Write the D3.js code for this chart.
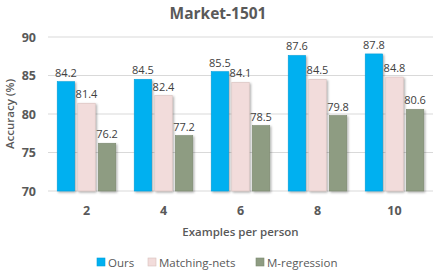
<!DOCTYPE html>
<html>
<head>
<meta charset="utf-8">
<script src="https://cdn.jsdelivr.net/npm/d3@7"></script>
<style>
  body { margin: 0; background: #fff; }
  svg { font-family: "Open Sans", "Liberation Sans", sans-serif; }
</style>
</head>
<body>
<div id="chart"></div>
<script>
// Chart data
const categories = ["2", "4", "6", "8", "10"];
const seriesNames = ["Ours", "Matching-nets", "M-regression"];
const ours = [84.2, 84.5, 85.5, 87.6, 87.8];
const matchingNets = [81.4, 82.4, 84.1, 84.5, 84.8];
const mRegression = [76.2, 77.2, 78.5, 79.8, 80.6];
const yTicks = [70, 75, 80, 85, 90];

const colors = ["#00b0f0", "#f2dcdb", "#8e9c82"];
const strokes = ["#00a0dc", "#d8c0bd", "#7c8a70"];

const width = 436;
const height = 273;
const margin = { top: 37, right: 3, bottom: 82, left: 48 };

const svg = d3.select("#chart")
    .append("svg")
    .attr("width", width)
    .attr("height", height);

// soft shadow like the original
const defs = svg.append("defs");
const f = defs.append("filter").attr("id", "sh")
    .attr("x", "-20%").attr("y", "-20%").attr("width", "150%").attr("height", "150%");
f.append("feDropShadow").attr("dx", 1.2).attr("dy", 1.2)
    .attr("stdDeviation", 0.8).attr("flood-color", "#000").attr("flood-opacity", 0.35);

const x0 = d3.scaleBand()
    .domain(categories)
    .range([margin.left, width - margin.right])
    .paddingInner(0.24)
    .paddingOuter(0.12);

const x1 = d3.scaleBand()
    .domain(seriesNames)
    .range([0, x0.bandwidth()])
    .paddingInner(0.15)
    .paddingOuter(0);

const y = d3.scaleLinear()
    .domain([70, 90])
    .range([height - margin.bottom, margin.top]);

// gridlines
svg.append("g")
    .selectAll("line")
    .data(yTicks)
    .enter()
    .append("line")
    .attr("x1", margin.left)
    .attr("x2", width - margin.right)
    .attr("y1", d => y(d))
    .attr("y2", d => y(d))
    .attr("stroke", "#d9d9d9")
    .attr("stroke-width", 1);

// y axis labels
svg.append("g")
    .selectAll("text")
    .data(yTicks)
    .enter()
    .append("text")
    .attr("x", 36)
    .attr("y", d => y(d) + 4.5)
    .attr("text-anchor", "end")
    .attr("font-size", 12.5)
    .attr("font-weight", "bold")
    .attr("fill", "#595959")
    .text(d => d);

// bars
const allSeries = [ours, matchingNets, mRegression];
const rows = [];
categories.forEach((c, i) => {
    seriesNames.forEach((s, j) => {
        rows.push({ cat: c, series: s, idx: j, value: allSeries[j][i] });
    });
});

const groups = svg.append("g");
groups.selectAll("rect")
    .data(rows)
    .enter()
    .append("rect")
    .attr("x", d => x0(d.cat) + x1(d.series))
    .attr("y", d => y(d.value))
    .attr("width", x1.bandwidth())
    .attr("height", d => y(70) - y(d.value))
    .attr("fill", d => colors[d.idx])
    .attr("stroke", d => strokes[d.idx])
    .attr("stroke-width", 0.6)
    .attr("filter", "url(#sh)");

// value labels
groups.selectAll("text")
    .data(rows)
    .enter()
    .append("text")
    .attr("x", d => x0(d.cat) + x1(d.series) + x1.bandwidth() / 2)
    .attr("y", d => y(d.value) - 5)
    .attr("text-anchor", "middle")
    .attr("font-size", 11)
    .attr("fill", "#404040")
    .text(d => d.value.toFixed(1));

// x tick labels
svg.append("g")
    .selectAll("text")
    .data(categories)
    .enter()
    .append("text")
    .attr("x", d => x0(d) + x0.bandwidth() / 2)
    .attr("y", 215)
    .attr("text-anchor", "middle")
    .attr("font-size", 12.5)
    .attr("font-weight", "bold")
    .attr("fill", "#595959")
    .text(d => d);

// axis titles
svg.append("text")
    .attr("x", (margin.left + width - margin.right) / 2)
    .attr("y", 236)
    .attr("text-anchor", "middle")
    .attr("font-size", 11.5)
    .attr("font-weight", 600)
    .attr("fill", "#595959")
    .text("Examples per person");

svg.append("text")
    .attr("transform", `translate(14,${(margin.top + height - margin.bottom) / 2}) rotate(-90)`)
    .attr("text-anchor", "middle")
    .attr("font-size", 11.5)
    .attr("font-weight", 600)
    .attr("fill", "#595959")
    .text("Accuracy (%)");

// title
svg.append("text")
    .attr("x", width / 2)
    .attr("y", 19)
    .attr("text-anchor", "middle")
    .attr("font-size", 15.5)
    .attr("font-weight", "bold")
    .attr("fill", "#595959")
    .text("Market-1501");

// legend
const legendX = [97, 148, 256];
const legend = svg.append("g")
    .selectAll("g")
    .data(seriesNames)
    .enter()
    .append("g")
    .attr("transform", (d, i) => `translate(${legendX[i]},258)`);

legend.append("rect")
    .attr("width", 8)
    .attr("height", 8)
    .attr("fill", (d, i) => colors[i])
    .attr("stroke", (d, i) => strokes[i])
    .attr("stroke-width", 0.6);

legend.append("text")
    .attr("x", 11)
    .attr("y", 8.5)
    .attr("font-size", 11.5)
    .attr("fill", "#595959")
    .text(d => d);
</script>
</body>
</html>
